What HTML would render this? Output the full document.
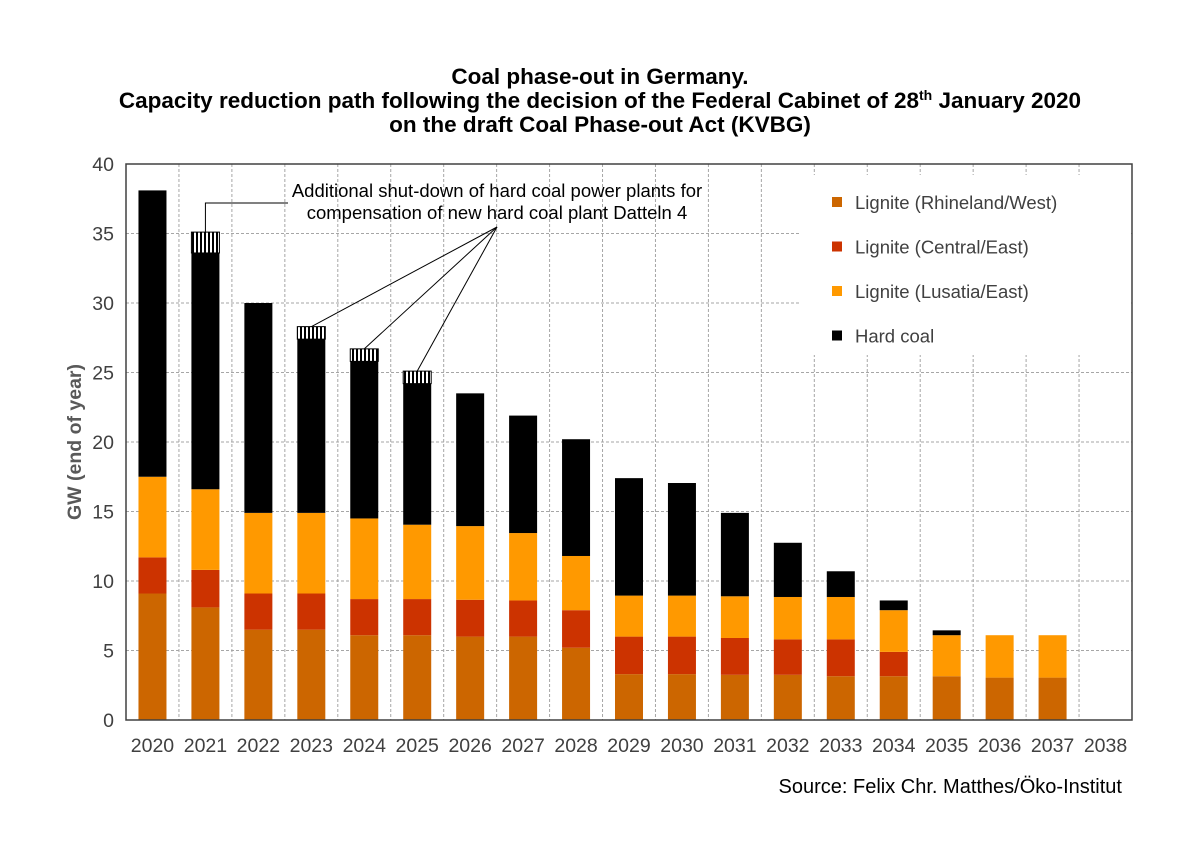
<!DOCTYPE html>
<html><head><meta charset="utf-8"><style>
body{margin:0;background:#fff;}
svg{display:block;font-family:"Liberation Sans",Arial,sans-serif;}
</style></head><body>
<svg id="chart" width="1200" height="849" viewBox="0 0 1200 849">
<defs>
<pattern id="hatch" width="4" height="4" patternUnits="userSpaceOnUse"><rect width="4" height="4" fill="#fff"/><rect width="2" height="4" fill="#000"/></pattern>
</defs>
<g font-weight="bold" font-size="22.5" text-anchor="middle" fill="#000">
<text x="600" y="84">Coal phase-out in Germany.</text>
<text x="600" y="108">Capacity reduction path following the decision of the Federal Cabinet of 28<tspan font-size="14" dy="-8">th</tspan><tspan dy="8"> January 2020</tspan></text>
<text x="600" y="132">on the draft Coal Phase-out Act (KVBG)</text>
</g>
<g id="grid"></g>
<g id="bars"></g>
<rect x="800" y="175" width="330" height="180" fill="#fff"/>
<g id="legend"></g>
<rect x="126" y="164" width="1006" height="556" fill="none" stroke="#404040" stroke-width="1.5"/>
<g id="axes"></g>
<g id="annot"></g>
<text transform="translate(81,442) rotate(-90)" text-anchor="middle" font-size="19.5" font-weight="bold" fill="#595959">GW (end of year)</text>
<text x="1122" y="793" text-anchor="end" font-size="20" fill="#000">Source: Felix Chr. Matthes/Öko-Institut</text>
</svg>
<script>
const years=["2020","2021","2022","2023","2024","2025","2026","2027","2028","2029","2030","2031","2032","2033","2034","2035","2036","2037","2038"];
const rhineland=[9.1,8.1,6.5,6.5,6.1,6.1,6.0,6.0,5.2,3.3,3.3,3.25,3.25,3.15,3.15,3.15,3.05,3.05,0];
const central=[2.6,2.7,2.6,2.6,2.6,2.6,2.65,2.6,2.7,2.7,2.7,2.65,2.55,2.65,1.75,0,0,0,0];
const lusatia=[5.8,5.8,5.8,5.8,5.8,5.35,5.3,4.85,3.9,2.95,2.95,3.0,3.05,3.05,3.0,2.95,3.05,3.05,0];
const hardCoal=[20.6,17.0,15.1,12.5,11.3,10.15,9.55,8.45,8.4,8.45,8.1,6.0,3.9,1.85,0.7,0.35,0,0,0];
const extraShutdown=[0,1.5,0,0.9,0.9,0.9,0,0,0,0,0,0,0,0,0,0,0,0,0];
const yTicks=[0,5,10,15,20,25,30,35,40];
const seriesNames=["Lignite (Rhineland/West)","Lignite (Central/East)","Lignite (Lusatia/East)","Hard coal"];
const NS="http://www.w3.org/2000/svg";
const L=126,R=1132,T=164,B=720,YMAX=40;
const bw=(R-L)/years.length, barW=28;
const y=v=>B-(B-T)*v/YMAX;
const xc=i=>L+bw*(i+0.5);
function mk(tag,attrs,parent){const e=document.createElementNS(NS,tag);for(const k in attrs)e.setAttribute(k,attrs[k]);parent.appendChild(e);return e;}
const grid=document.getElementById('grid'),bars=document.getElementById('bars'),axes=document.getElementById('axes'),leg=document.getElementById('legend'),ann=document.getElementById('annot');
yTicks.forEach(t=>{
 if(t>0&&t<YMAX){const g=mk('line',{x1:L,x2:R,y1:y(t),y2:y(t),stroke:'#a6a6a6','stroke-dasharray':'3,2'},grid);
 
 }
 const tl=mk('text',{x:L-12,y:y(t)+7,'text-anchor':'end','font-size':'19.5',fill:'#404040'},axes);tl.textContent=t;
 
 
});
for(let i=1;i<years.length;i++){const g=mk('line',{x1:L+bw*i,x2:L+bw*i,y1:T,y2:B,stroke:'#a6a6a6','stroke-dasharray':'3,2'},grid);
 
 }
const colors=['#cc6600','#cc3300','#ff9900','#000000'];
const series=[rhineland,central,lusatia,hardCoal];
const segNames=['bar-rhineland','bar-central','bar-lusatia','bar-hard-coal'];
years.forEach((yr,i)=>{
 let base=0;
 series.forEach((s,k)=>{const v=s[i];if(v>0){const r=mk('rect',{x:xc(i)-barW/2,y:y(base+v),width:barW,height:y(base)-y(base+v),fill:colors[k]},bars);
  
  }
  base+=v;});
 if(extraShutdown[i]>0){const r=mk('rect',{x:xc(i)-barW/2,y:y(base+extraShutdown[i]),width:barW,height:y(base)-y(base+extraShutdown[i]),fill:'url(#hatch)',stroke:'#000','stroke-width':'1'},bars);
  
  }
 const xl=mk('text',{x:xc(i),y:752,'text-anchor':'middle','font-size':'19.5',fill:'#404040'},axes);xl.textContent=yr;
 
 
});
seriesNames.forEach((n,k)=>{
 const yy=202+k*44.5;
 const m=mk('rect',{x:832,y:yy-5,width:10,height:10,fill:colors[k]},leg);
 
 
 const t=mk('text',{x:855,y:yy+7,'font-size':'18.5',fill:'#404040'},leg);t.textContent=n;
 
 
});
const at1=mk('text',{x:497,y:197,'text-anchor':'middle','font-size':'18.5',fill:'#000'},ann);at1.textContent='Additional shut-down of hard coal power plants for';
const at2=mk('text',{x:497,y:219,'text-anchor':'middle','font-size':'18.5',fill:'#000'},ann);at2.textContent='compensation of new hard coal plant Datteln 4';
const tops=years.map((_,i)=>rhineland[i]+central[i]+lusatia[i]+hardCoal[i]+extraShutdown[i]);
const p1=mk('polyline',{points:`${xc(1)},${y(tops[1])} ${xc(1)},203 288,203`,fill:'none',stroke:'#000','stroke-width':'1'},ann);


[3,4,5].forEach(i=>{const l=mk('line',{x1:497,y1:227,x2:xc(i),y2:y(tops[i]),stroke:'#000','stroke-width':'1'},ann);
 
 });
</script>
</body></html>
